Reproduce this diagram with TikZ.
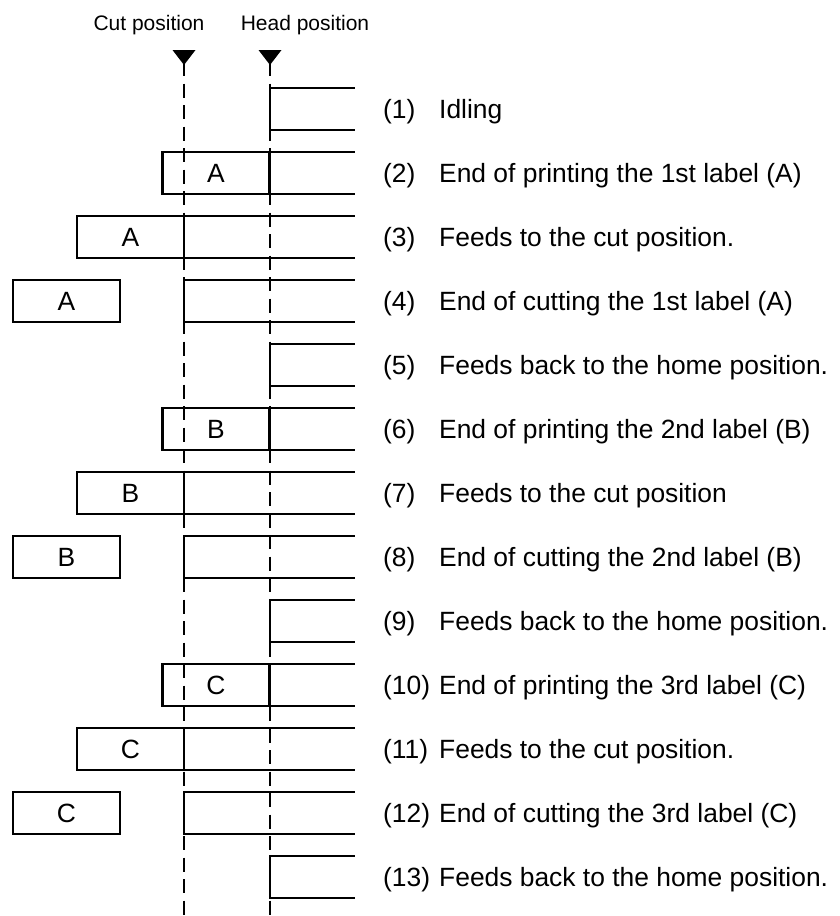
\documentclass[tikz,border=0pt]{standalone}
\usepackage{fontspec}
\setmainfont{Liberation Sans}
\begin{document}
\begin{tikzpicture}[x=1pt,y=-1pt,
  tape/.style={line width=2.5pt,line cap=rect},
  posline/.style={line width=2.8pt,dash pattern=on 14pt off 7.5pt},
  marker/.style={fill=black},
  labelbox/.style={draw,line width=2.5pt,outer sep=0pt,minimum width=107pt,minimum height=42pt,inner sep=0pt,font=\fontsize{26.4}{30}\selectfont},
  rownum/.style={anchor=base west,inner sep=0pt,font=\fontsize{26.4}{30}\selectfont},
  rowtext/.style={anchor=base west,inner sep=0pt,font=\fontsize{26.4}{30}\selectfont},
  header/.style={anchor=base,inner sep=0pt,font=\fontsize{21}{25}\selectfont}]
\useasboundingbox (0,0) rectangle (839,916);
% headers
\node[header] (hcut) at (149,30) {Cut position};
\node[header] (hhead) at (305,30) {Head position};
% markers
\coordinate (cuttop) at (184,62);
\coordinate (cutbot) at (184,916);
\coordinate (headtop) at (270,62);
\coordinate (headbot) at (270,916);
\fill[marker] (172.5,50) -- (195.5,50) -- (184,65) -- cycle;
\fill[marker] (258.5,50) -- (281.5,50) -- (270,65) -- cycle;
\draw[posline] (cuttop) -- (cutbot);
\draw[posline] (headtop) -- (headbot);
% home rows
\foreach \t in {88,344,600,856} {
  \draw[tape] (354,\t) -- (270,\t) -- (270,\t+42) -- (354,\t+42);
}
% printed rows
\foreach \t/\L in {152/A,408/B,664/C} {
  \node[labelbox] (p\L) at (216,\t+21) {\L};
  \draw[tape] (p\L.north east) -- (354,\t);
  \draw[tape] (p\L.south east) -- (354,\t+42);
}
% feed rows
\foreach \t/\L in {216/A,472/B,728/C} {
  \node[labelbox] (f\L) at (130.5,\t+21) {\L};
  \draw[tape] (f\L.north east) -- (354,\t);
  \draw[tape] (f\L.south east) -- (354,\t+42);
}
% cut rows
\foreach \t/\L in {280/A,536/B,792/C} {
  \node[labelbox] (c\L) at (66.5,\t+21) {\L};
  \draw[tape] (354,\t) -- (184,\t) -- (184,\t+42) -- (354,\t+42);
}
% row labels
\foreach \i/\txt in {1/Idling,
  2/End of printing the 1st label (A),
  3/Feeds to the cut position.,
  4/End of cutting the 1st label (A),
  5/Feeds back to the home position.,
  6/End of printing the 2nd label (B),
  7/Feeds to the cut position,
  8/End of cutting the 2nd label (B),
  9/Feeds back to the home position.,
  10/End of printing the 3rd label (C),
  11/Feeds to the cut position.,
  12/End of cutting the 3rd label (C),
  13/Feeds back to the home position.} {
  \node[rownum] (n\i) at (383,{88+64*(\i-1)+21+9.5}) {(\i)};
  \node[rowtext] (t\i) at (439,{88+64*(\i-1)+21+9.5}) {\txt};
}
\end{tikzpicture}
\end{document}
